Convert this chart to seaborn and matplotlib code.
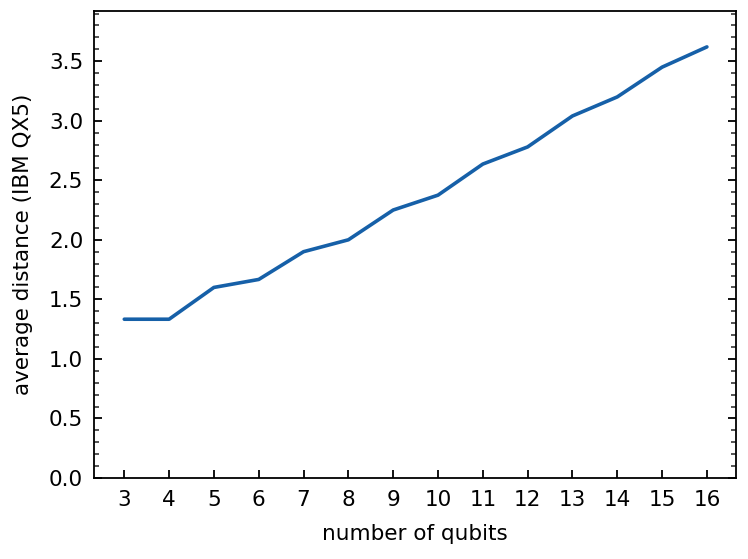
import numpy as np
import pandas as pd
import seaborn as sns
import matplotlib.pyplot as plt
from matplotlib.ticker import MultipleLocator

qubits = [3, 4, 5, 6, 7, 8, 9, 10, 11, 12, 13, 14, 15, 16]
avg_distance = [1.333, 1.333, 1.6, 1.667, 1.9, 2.0, 2.25, 2.375, 2.636, 2.78,
                3.04, 3.2, 3.45, 3.62]


def plot_line(df):
    sns.set_theme(style="ticks")
    plt.rcParams['font.family'] = ['DejaVu Sans']
    f, ax = plt.subplots(figsize=(7.48, 5.59), dpi=100)
    sns.lineplot(data=df, x='qubits', y='distance', color='#1660a8',
                 linewidth=2.6, ax=ax)
    ax.set_xticks(qubits)
    ax.set_xlim(2.33, 16.65)
    ax.set_ylim(0, 3.92)
    ax.yaxis.set_major_locator(MultipleLocator(0.5))
    ax.yaxis.set_minor_locator(MultipleLocator(0.1))
    ax.tick_params(axis='both', which='major', direction='in', length=6,
                   width=1.3, labelsize=15.5, colors='black')
    ax.tick_params(axis='y', which='minor', direction='in', length=3.5,
                   width=1.1, right=True)
    ax.tick_params(axis='y', which='major', right=True, pad=8)
    ax.tick_params(axis='x', which='major', top=False, pad=9)
    for s in ax.spines.values():
        s.set_linewidth(1.3)
        s.set_color('black')
    ax.set_xlabel('number of qubits', fontsize=15.5, color='black', labelpad=10)
    ax.set_ylabel('average distance (IBM QX5)', fontsize=15.5, color='black',
                  labelpad=11)
    f.subplots_adjust(left=0.126, right=0.984, top=0.98, bottom=0.145)
    return ax


df = pd.DataFrame({'qubits': qubits, 'distance': avg_distance})
ax = plot_line(df)
plt.savefig('out.png', dpi=100)
